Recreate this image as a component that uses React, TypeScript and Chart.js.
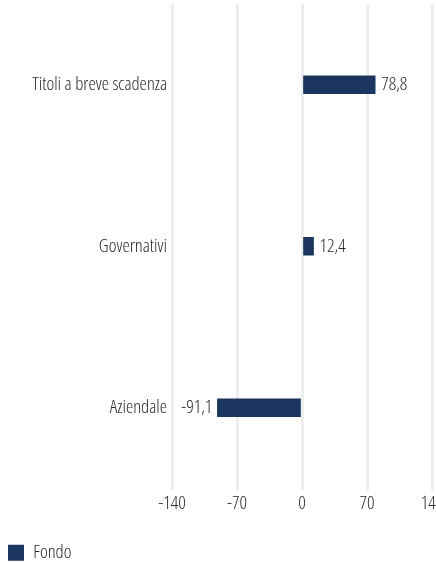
import React, { useEffect, useRef } from "react";
import { Chart, registerables } from "chart.js";

Chart.register(...registerables);

const categories = ["Titoli a breve scadenza", "Governativi", "Aziendale"];
const fondoValues = [78.8, 12.4, -91.1];
const seriesName = "Fondo";
const xTicks = [-140, -70, 0, 70, 140];

const FAMILY = "'Open Sans', 'DejaVu Sans', sans-serif";
const STRETCH = "condensed 300";
const SIZE = 18.5;
const TEXT = "#2a2a2a";
const BAR = "#1b365e";

const fontOpt = { family: FAMILY, size: SIZE, weight: STRETCH as any };

const valueLabels = {
  id: "valueLabels",
  afterDatasetsDraw(chart: any) {
    const ctx = chart.ctx;
    const meta = chart.getDatasetMeta(0);
    ctx.save();
    ctx.font = `${STRETCH} ${SIZE}px ${FAMILY}`;
    ctx.fillStyle = TEXT;
    ctx.textBaseline = "middle";
    meta.data.forEach((bar: any, i: number) => {
      const v = fondoValues[i];
      const txt = v.toFixed(1).replace(".", ",");
      if (v >= 0) {
        ctx.textAlign = "left";
        ctx.fillText(txt, bar.x + 6, bar.y);
      } else {
        ctx.textAlign = "right";
        ctx.fillText(txt, bar.x - 5, bar.y);
      }
    });
    ctx.restore();
  },
};

export default function App() {
  const ref = useRef<HTMLCanvasElement | null>(null);
  useEffect(() => {
    if (!ref.current) return;
    const chart = new Chart(ref.current, {
      type: "bar",
      data: {
        labels: categories,
        datasets: [
          {
            label: seriesName,
            data: fondoValues,
            backgroundColor: BAR,
            borderWidth: 0,
            barThickness: 18,
          },
        ],
      },
      options: {
        indexAxis: "y",
        animation: false,
        responsive: false,
        layout: { padding: { top: 4, left: 0, right: 14, bottom: 0 } },
        plugins: {
          legend: {
            display: true,
            position: "bottom",
            align: "start",
            labels: {
              boxWidth: 16,
              boxHeight: 16,
              color: TEXT,
              font: fontOpt,
              padding: 8,
            },
          },
          tooltip: { enabled: false },
        },
        scales: {
          x: {
            min: -140,
            max: 140,
            afterBuildTicks(scale: any) {
              scale.ticks = xTicks.map((v) => ({ value: v }));
            },
            afterFit(scale: any) {
              scale.height = 47;
              scale.paddingLeft = 0;
              scale.paddingRight = 0;
            },
            grid: {
              color: "#eeeeee",
              lineWidth: 3,
              tickLength: 2,
              drawTicks: true,
            },
            border: { display: false },
            ticks: {
              color: TEXT,
              font: fontOpt,
              padding: 2,
              maxRotation: 0,
            },
          },
          y: {
            afterFit(scale: any) {
              scale.width = 172;
              scale.paddingTop = 0;
              scale.paddingBottom = 0;
            },
            grid: { display: false, drawTicks: false },
            border: { display: false },
            ticks: {
              color: TEXT,
              font: fontOpt,
              padding: 5,
            },
          },
        },
      },
      plugins: [valueLabels],
    } as any);
    return () => chart.destroy();
  }, []);
  return (
    <div style={{ position: "absolute", left: 0, top: 0, width: 436, height: 562, overflow: "hidden" }}>
      <canvas ref={ref} width={446} height={572} style={{ width: 446, height: 572, display: "block" }} />
    </div>
  );
}
